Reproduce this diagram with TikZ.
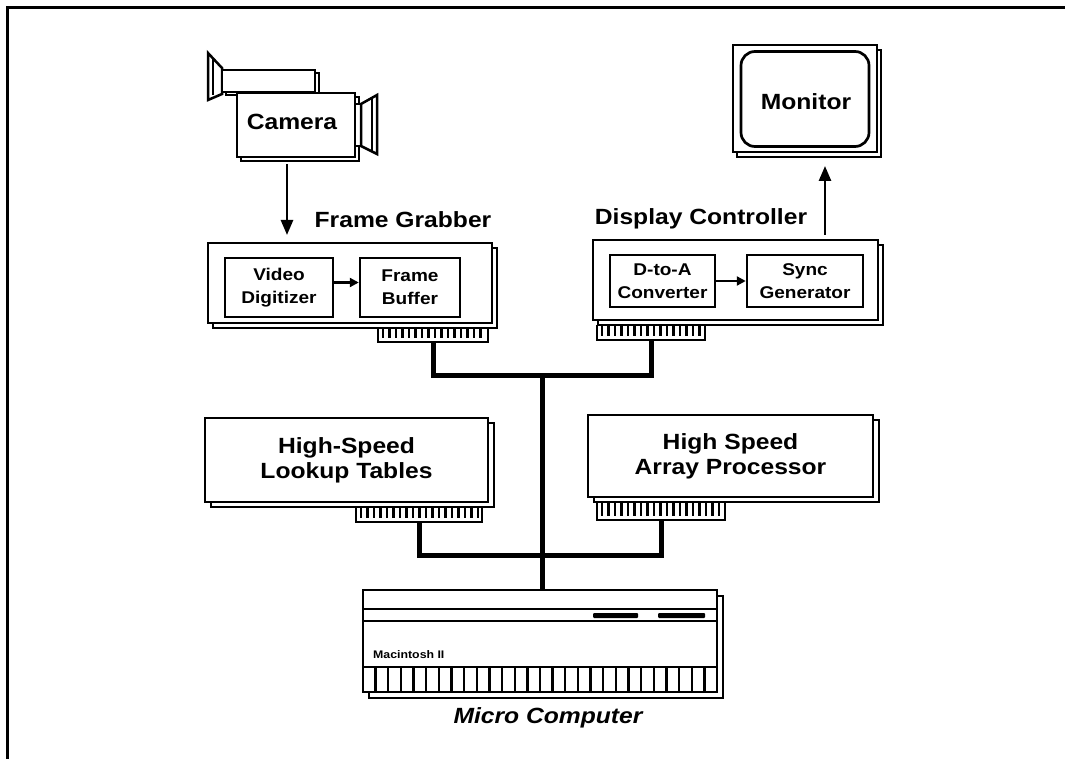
\documentclass[tikz,border=0pt]{standalone}
\usepackage{fontspec}
\setmainfont{Liberation Sans}[FakeStretch=1.12]
\usetikzlibrary{shadows,arrows.meta}

\newcommand\lblfont{\bfseries\fontsize{22}{25}\selectfont}
\newcommand\unitfont{\bfseries\fontsize{17}{23}\selectfont}
\newcommand\macfont{\bfseries\fontsize{11}{13}\selectfont}

% edge connector of a plug-in card: U-shaped outline with a row of contacts
\newcommand\cardteeth[4]{%
  \draw[line width=2pt] (#1,#3) -- (#1,#4) -- (#2,#4) -- (#2,#3);
  \pgfmathsetmacro\tstart{#1+5}
  \pgfmathsetmacro\tnext{#1+11.5}
  \pgfmathsetmacro\tend{#2-3}
  \foreach \tx in {\tstart,\tnext,...,\tend}
    \draw[line width=2.8pt] (\tx,#3+1) -- (\tx,#4-4);
}

\begin{document}
\begin{tikzpicture}[x=1pt,y=-1pt,line join=miter,
  outline/.style={draw=black,line width=2.7pt,fill=white,inner sep=0pt},
  cardshadow/.style 2 args={copy shadow={shadow xshift=#1pt,shadow yshift=-#2pt,line width=2.4pt}},
  unit/.style={draw=black,line width=2.5pt,fill=white,inner sep=0pt,align=center,font=\unitfont},
  biglabel/.style={font=\lblfont,inner sep=0pt,align=center},
  bigarrow/.style={line width=2.6pt,-{Triangle[length=15pt,width=12pt]}},
  smallarrow/.style={line width=2.4pt,-{Triangle[length=9pt,width=9pt]}},
  bus/.style={line width=5pt},
]
\useasboundingbox (0,0) rectangle (1065,759);

% page frame (top and left rules)
\draw[line width=3pt] (7,759) -- (7,8) -- (1065,8);

% ---------- camera ----------
\draw[outline,line width=2.5pt] (208,53) -- (222,68) -- (222,94) -- (208,100) -- cycle;
\draw[line width=2.5pt] (213,59) -- (213,95);
\node[outline,line width=2.5pt,cardshadow={4}{3},minimum width=93pt,minimum height=22pt] (camtube) at (268.5,81) {};
\node[outline,cardshadow={4}{4},minimum width=118pt,minimum height=64pt] (cam) at (296,125) {};
\node[biglabel,anchor=base] (camtext) at (292,130) {Camera};
\draw[outline,line width=2.5pt] (355,104) rectangle (361,146);
\draw[outline,line width=2.5pt] (361,104) -- (377,95) -- (377,154) -- (361,146) -- cycle;
\draw[line width=2.5pt] (372,98) -- (372,151);

% ---------- monitor ----------
\node[outline,cardshadow={4}{5},minimum width=144pt,minimum height=107pt] (mon) at (805,98.5) {};
\node[draw=black,line width=2.7pt,rounded corners=14pt,minimum width=128pt,minimum height=95pt,inner sep=0pt] (screen) at (805,99) {};
\node[biglabel,anchor=base] (montext) at (806,110) {Monitor};

% ---------- frame grabber ----------
\node[outline,cardshadow={5}{5},minimum width=284pt,minimum height=80pt] (fg) at (350,283) {};
\node[unit,minimum width=108pt,minimum height=59pt] (vd) at (279,287.5) {Video\\Digitizer};
\node[unit,minimum width=100pt,minimum height=59pt] (fb) at (410,287.5) {Frame\\Buffer};
\draw[smallarrow] ([yshift=5pt]vd.east) -- ([yshift=5pt]fb.west);
\node[biglabel,anchor=base] (fglabel) at (403,228) {Frame Grabber};
\cardteeth{378}{488}{328}{342}
\coordinate (fgpin) at (433,342);

% ---------- display controller ----------
\node[outline,cardshadow={5}{5},minimum width=285pt,minimum height=80pt] (dc) at (735.5,280) {};
\node[unit,minimum width=105pt,minimum height=52pt] (dta) at (662.5,281) {D-to-A\\Converter};
\node[unit,minimum width=116pt,minimum height=52pt] (sync) at (805,281) {Sync\\Generator};
\draw[smallarrow] (dta.east) -- (sync.west);
\node[biglabel,anchor=base] (dclabel) at (701,225) {Display Controller};
\cardteeth{597}{705}{325}{340}
\coordinate (dcpin) at (651,340);

% ---------- lookup tables ----------
\node[outline,cardshadow={6}{5},minimum width=283pt,minimum height=84pt,font=\lblfont,align=center] (lut) at (346.5,460) {High-Speed\\Lookup Tables};
\cardteeth{356}{482}{507}{522}
\coordinate (lutpin) at (419,522);

% ---------- array processor ----------
\node[outline,cardshadow={6}{5},minimum width=285pt,minimum height=82pt,font=\lblfont,align=center] (ap) at (730.5,456) {High Speed\\Array Processor};
\cardteeth{597}{725}{502}{520}
\coordinate (appin) at (661,520);

% ---------- micro computer ----------
\node[outline,cardshadow={6}{6},minimum width=354pt,minimum height=102pt] (mac) at (540,641) {};
\draw[line width=2.2pt] (363,609) -- (717,609);
\draw[line width=2.2pt] (363,621) -- (717,621);
\fill[rounded corners=1pt] (593,613) rectangle (638,618);
\fill[rounded corners=1pt] (658,613) rectangle (705,618);
\node[font=\macfont,anchor=base west,inner sep=0pt] (macname) at (373,658) {Macintosh II};
\draw[line width=2.4pt] (363,667) -- (717,667);
\foreach \i in {1,...,27}
  \draw[line width=2.4pt] ({363+\i*354/28},667) -- ({363+\i*354/28},692);
\node[biglabel,anchor=base,font=\lblfont\itshape] (maclabel) at (548,723) {Micro Computer};

% ---------- signal arrows ----------
\coordinate (camtip) at (287,235);
\draw[bigarrow] (cam.south -| camtip) ++(0,6) -- (camtip);
\coordinate (montip) at (825,166);
\draw[bigarrow] (dc.north -| montip) ++(0,-4) -- (montip);

% ---------- bus ----------
\coordinate (hubtop) at (542,375);
\coordinate (hublow) at (542,555);
\draw[bus] (fgpin) |- (hubtop) -| (dcpin);
\draw[bus] (lutpin) |- (hublow) -| (appin);
\draw[bus] (hubtop) -- (hubtop |- mac.north);
\end{tikzpicture}
\end{document}
